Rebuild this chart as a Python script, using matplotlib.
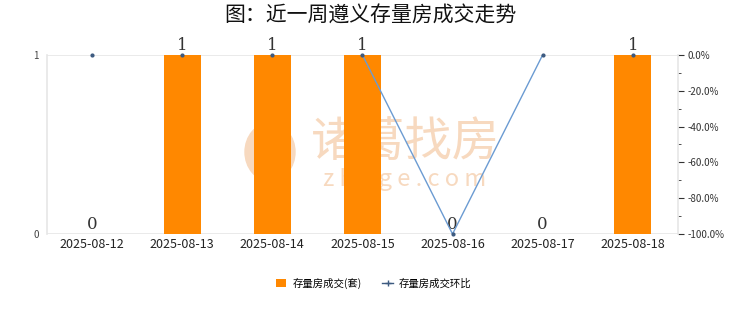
import numpy as np
import matplotlib
matplotlib.use('Agg')
import matplotlib.pyplot as plt
from matplotlib.ticker import FixedLocator
from matplotlib.patches import Ellipse, Arc

plt.rcParams['font.family'] = ['Noto Sans CJK SC', 'DejaVu Sans']

# data
dates = ['2025-08-12', '2025-08-13', '2025-08-14', '2025-08-15',
         '2025-08-16', '2025-08-17', '2025-08-18']
deals = [0, 1, 1, 1, 0, 0, 1]
ratio = [0, 0, 0, 0, -100, 0, 0]        # 环比 (%)
line_idx = [3, 4, 5]                    # only these points are joined by the line

fig = plt.figure(figsize=(7.4, 3.12), dpi=100)
ax = fig.add_axes([0.0635, 0.25, 0.8525, 0.574])
x = np.arange(len(dates))

ax.bar(x, deals, width=0.41, color='#ff8800', zorder=3, label='存量房成交(套)')
for xi, v in zip(x, deals):
    ax.text(xi, v + 0.005, str(v), ha='center', va='bottom', fontsize=12,
            family='DejaVu Serif', color='#333333', zorder=6)

ax.set_xlim(-0.5, len(dates) - 0.5)
ax.set_ylim(0, 1)
ax.set_yticks([0, 1])
ax.set_xticks(x)
ax.set_xticklabels(dates, fontsize=9, color='#222222')
ax.tick_params(axis='x', length=0, pad=3)
ax.tick_params(axis='y', length=0, labelsize=7, colors='#444444', pad=6)
ax.grid(axis='y', color='#e6e6e6', lw=1.2, zorder=0)
for s in ['top', 'right', 'bottom']:
    ax.spines[s].set_visible(False)
ax.spines['left'].set_color('#e6e6e6')
ax.spines['left'].set_linewidth(1.2)

# watermark, behind the bars
wm = '#f7d9bf'
ax.text(405 / 740, 1 - 143 / 312, '诸葛找房', transform=fig.transFigure,
        fontsize=34, color=wm, ha='center', va='center', zorder=1)
ax.text(405 / 740, 1 - 180 / 312, 'z h u g e . c o m', transform=fig.transFigure,
        fontsize=17, color=wm, ha='center', va='center', zorder=1)
ax.add_patch(Ellipse((270 / 740, 1 - 152 / 312), 50 / 740, 58 / 312,
                     transform=fig.transFigure, color=wm, zorder=1))
ax.add_patch(Arc((262 / 740, 1 - 155 / 312), 30 / 740, 48 / 312,
                 theta1=-80, theta2=80, transform=fig.transFigure,
                 color='white', lw=2, zorder=1))

ax2 = ax.twinx()
ax2.set_ylim(-100, 0)
ax2.set_yticks(np.arange(-100, 1, 20))
ax2.set_yticklabels(['%.1f%%' % v for v in np.arange(-100, 1, 20)])
ax2.yaxis.set_minor_locator(FixedLocator(np.arange(-90, 0, 20)))
ax2.tick_params(axis='y', which='major', length=4, labelsize=7,
                colors='#333333', pad=3)
ax2.tick_params(axis='y', which='minor', length=2, colors='#333333')
for s in ['top', 'left', 'bottom']:
    ax2.spines[s].set_visible(False)
ax2.spines['right'].set_color('#e6e6e6')
ax2.spines['right'].set_linewidth(1.2)

ax2.plot(x[line_idx], [ratio[i] for i in line_idx], color='#6b9bd2', lw=1,
         zorder=4)
ax2.plot(x, ratio, ls='none', marker='o', ms=2, color='#3d5a80', zorder=5,
         clip_on=False)
ax2.plot([], [], color='#3d5a80', lw=1, marker='+', ms=4, label='存量房成交环比')

fig.suptitle('图：近一周遵义存量房成交走势', fontsize=15, y=0.985,
             color='#111111')

h1, l1 = ax.get_legend_handles_labels()
h2, l2 = ax2.get_legend_handles_labels()
fig.legend(h1 + h2, l1 + l2, loc='center', bbox_to_anchor=(0.505, 0.093),
           ncol=2, frameon=False, fontsize=7.5, handlelength=1.0,
           handleheight=0.8, columnspacing=2.0, handletextpad=0.6)

fig.savefig('out.png', dpi=100, facecolor='white')
